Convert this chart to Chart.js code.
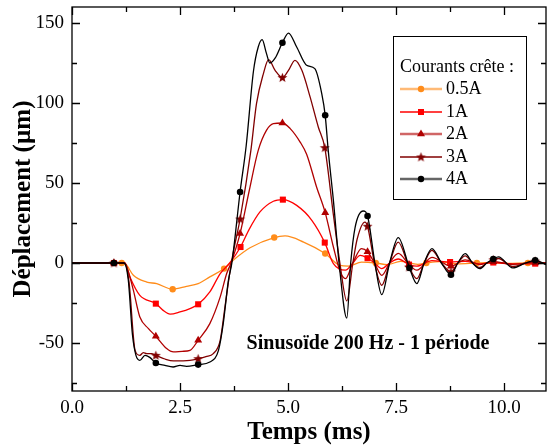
<!DOCTYPE html>
<html>
<head>
<meta charset="utf-8">
<script src="https://cdn.jsdelivr.net/npm/chart.js@4.4.1/dist/chart.umd.min.js"></script>
<style>
html, body { margin: 0; padding: 0; background: #fff; }
</style>
</head>
<body>
<canvas id="dispChart" width="547" height="448"></canvas>
<script>
// Series labels
const labels = ['0.5A', '1A', '2A', '3A', '4A'];

// 0.5A
const t05 = [0, 1.15, 1.25, 1.42, 1.73, 1.96, 2.33, 2.65, 2.92, 3.19, 3.52, 3.73, 4.12, 4.68, 4.93, 5.36, 5.86, 6.2, 6.4, 6.7, 7.03, 7.3, 7.6, 8.0, 8.2, 8.5, 8.9, 9.37, 9.7, 10.1, 10.55, 10.97];
const v05 = [0, 0, -1, -7.7, -11.9, -12.9, -16.4, -14.6, -12.9, -8.7, -3.5, 1.7, 9.5, 15.9, 16.9, 13.1, 5.9, -1.5, -2, 0.5, 0, -1, 1, -0.8, 0, 0.8, -0.5, 0, 0.3, -0.3, 0, 0];

// 1A
const t1 = [0, 0.97, 1.22, 1.34, 1.57, 1.94, 2.11, 2.27, 2.5, 2.73, 2.92, 3.19, 3.43, 3.65, 3.9, 4.1, 4.35, 4.66, 4.88, 5.2, 5.55, 5.85, 6.05, 6.33, 6.5, 6.67, 6.84, 7.0, 7.17, 7.35, 7.55, 7.8, 7.98, 8.33, 8.75, 9.1, 9.44, 9.75, 10.2, 10.72, 10.97];
const v1 = [0, 0, 0, -8.7, -20.2, -25.4, -29.6, -32, -30.6, -28.5, -25.8, -18.1, -6.6, 0, 10, 21, 31.9, 38.6, 39.6, 36, 26.7, 12.75, -0.4, -4.5, 0, 4.8, 3, 0, -3.5, 0, 2.5, -1, -2, 1.5, 0.6, 1, -0.5, 0.3, -0.6, -0.4, 0];

// 2A
const t2 = [0, 0.97, 1.22, 1.3, 1.42, 1.57, 1.77, 1.94, 2.19, 2.35, 2.55, 2.73, 2.92, 3.19, 3.43, 3.58, 3.68, 3.89, 4.1, 4.31, 4.5, 4.66, 4.87, 5.05, 5.28, 5.43, 5.66, 5.86, 6.05, 6.2, 6.33, 6.5, 6.7, 6.84, 7.0, 7.17, 7.35, 7.55, 7.8, 7.98, 8.33, 8.77, 9.1, 9.44, 9.75, 10.2, 10.72, 10.97];
const v2 = [0, 0, 0, -5, -17, -33.8, -41, -45.8, -53.5, -55.6, -55.2, -54.6, -48.3, -37.9, -21.2, -6.6, 0, 18.4, 45, 70.4, 82.9, 87.1, 87.5, 84, 75.6, 68, 47.5, 31.5, 10, -5, -9.8, 0, 9, 7, 0, -7.7, 0, 6, -1, -4.5, 3.5, -2, 2, -1, 0.8, -0.8, 0.3, 0];

// 3A
const t3 = [0, 0.97, 1.22, 1.32, 1.46, 1.57, 1.65, 1.73, 1.84, 1.94, 2.15, 2.35, 2.73, 2.92, 3.1, 3.27, 3.43, 3.54, 3.66, 3.72, 3.89, 4.14, 4.27, 4.43, 4.55, 4.7, 4.87, 5.01, 5.16, 5.32, 5.51, 5.7, 5.85, 6.05, 6.2, 6.36, 6.5, 6.6, 6.78, 6.84, 7.0, 7.17, 7.35, 7.55, 7.8, 7.98, 8.15, 8.33, 8.55, 8.77, 8.93, 9.1, 9.27, 9.44, 9.6, 9.75, 9.87, 10.2, 10.5, 10.72, 10.97];
const v3 = [0, 0, 0, -12, -54.6, -57.7, -56, -56.6, -56.6, -57.7, -60, -61.2, -60.8, -59.8, -58.5, -56.6, -48.3, -27.5, -4.6, 5, 27.5, 70.4, 99.6, 118.4, 127.1, 120.4, 115.9, 120.4, 126.7, 120.4, 103.8, 85, 72.1, 30, 0, -23.7, 0, 15, 25.6, 23, 0, -13.9, 0, 13.1, -2.5, -9.8, 0, 7.9, 0, -5.5, 0, 4.5, 0, -2.8, 0, 2, 2.8, -2.2, 0, 1.2, -0.8];

// 4A
const t4 = [0, 0.97, 1.2, 1.3, 1.4, 1.48, 1.57, 1.69, 1.8, 1.94, 2.15, 2.34, 2.5, 2.65, 2.92, 3.19, 3.39, 3.5, 3.62, 3.7, 3.89, 4.03, 4.2, 4.31, 4.4, 4.5, 4.58, 4.7, 4.87, 5.01, 5.2, 5.43, 5.62, 5.78, 5.86, 5.93, 6.05, 6.19, 6.36, 6.45, 6.55, 6.74, 6.84, 7.01, 7.17, 7.35, 7.55, 7.81, 7.98, 8.15, 8.33, 8.55, 8.77, 8.93, 9.1, 9.27, 9.44, 9.6, 9.75, 9.87, 10.2, 10.5, 10.72, 10.97];
const v4 = [0, 0, 0, -10, -45, -57.7, -60.8, -57.7, -59, -62.5, -64, -65, -64, -64.6, -63.5, -61.9, -54.6, -37.9, -10.8, 0, 44.4, 73, 120, 135, 139.6, 131, 125, 128, 137.7, 143.7, 135, 123.6, 121.5, 105.9, 92.3, 70.4, 39, -2.5, -34.4, 0, 22, 32.5, 29.4, 0, -19.8, 0, 15.9, -3.1, -12.9, 0, 9, 0, -7.3, 0, 5.9, 0, -3.5, 0, 2.5, 3.8, -3.1, 0, 1.7, -1];

// times where the symbols sit
const marks05 = [1.15, 2.33, 3.52, 4.68, 5.86, 7.03, 8.2, 9.37, 10.55];
const marks = [0.97, 1.94, 2.92, 3.89, 4.87, 5.86, 6.84, 7.81, 8.77, 9.75, 10.72];

// axis ticks
const xTickLabels = [0, 2.5, 5, 7.5, 10];
const yTickLabels = [-50, 0, 50, 100, 150];

const colors = ['#ff8c1a', '#ff0000', '#b00000', '#800000', '#000000'];
const serif = '"Liberation Serif", "Times New Roman", serif';

function starImage(color) {
    const c = document.createElement('canvas');
    c.width = 11; c.height = 11;
    const g = c.getContext('2d');
    g.fillStyle = color;
    g.beginPath();
    for (let i = 0; i < 10; i++) {
        const r = i % 2 ? 2.2 : 5.2;
        const a = -Math.PI / 2 + i * Math.PI / 5;
        g.lineTo(5.5 + r * Math.cos(a), 5.9 + r * Math.sin(a));
    }
    g.closePath();
    g.fill();
    return c;
}
const star = starImage(colors[3]);

function toPoints(t, v) {
    return t.map((x, i) => ({ x: x, y: v[i] }));
}

function markRadius(list, r) {
    return ctx => {
        const p = ctx.raw;
        if (!p) return 0;
        return list.some(m => Math.abs(m - p.x) < 0.025) ? r : 0;
    };
}

const styles = ['circle', 'rect', 'triangle', star, 'circle'];
const radii = [3.2, 4.3, 4.6, 5, 3.3];
const series = [[t05, v05], [t1, v1], [t2, v2], [t3, v3], [t4, v4]];

const datasets = series.map((s, i) => ({
    label: labels[i],
    data: toPoints(s[0], s[1]),
    borderColor: colors[i],
    backgroundColor: colors[i],
    borderWidth: 1.3,
    cubicInterpolationMode: 'monotone',
    pointStyle: styles[i],
    pointRadius: markRadius(i === 0 ? marks05 : marks, radii[i]),
    pointBorderWidth: 0,
    pointHoverRadius: 0,
    order: 5 - i
}));

function isLabelled(list, v) {
    return list.some(l => Math.abs(l - v) < 1e-6);
}

const framePlugin = {
    id: 'frame',
    afterDraw(chart) {
        const { ctx, chartArea: a, scales } = chart;
        const x = scales.x, y = scales.y;
        ctx.save();
        ctx.strokeStyle = '#000';
        ctx.lineWidth = 1.3;
        ctx.strokeRect(a.left, a.top, a.right - a.left, a.bottom - a.top);

        ctx.beginPath();
        x.ticks.forEach(tk => {
            const px = Math.round(x.getPixelForValue(tk.value)) + 0.5;
            const len = isLabelled(xTickLabels, tk.value) ? 8 : 5;
            ctx.moveTo(px, a.bottom); ctx.lineTo(px, a.bottom - len);
            ctx.moveTo(px, a.top); ctx.lineTo(px, a.top + len);
        });
        y.ticks.forEach(tk => {
            const py = Math.round(y.getPixelForValue(tk.value)) + 0.5;
            const len = isLabelled(yTickLabels, tk.value) ? 8 : 5;
            ctx.moveTo(a.left, py); ctx.lineTo(a.left + len, py);
            ctx.moveTo(a.right, py); ctx.lineTo(a.right - len, py);
        });
        ctx.stroke();

        // annotation
        ctx.fillStyle = '#000';
        ctx.font = 'bold 20px ' + serif;
        ctx.textAlign = 'center';
        ctx.textBaseline = 'middle';
        ctx.fillText('Sinusoïde 200 Hz - 1 période', x.getPixelForValue(6.85), y.getPixelForValue(-50.5));

        // legend
        const bx = 393, by = 36, bw = 133, bh = 163;
        ctx.fillStyle = '#fff';
        ctx.fillRect(bx, by, bw, bh);
        ctx.lineWidth = 1;
        ctx.strokeStyle = '#000';
        ctx.strokeRect(bx + 0.5, by + 0.5, bw, bh);
        ctx.fillStyle = '#000';
        ctx.font = '18px ' + serif;
        ctx.textAlign = 'left';
        ctx.fillText('Courants crête :', 400, 67);
        const rowY = [89, 112, 134, 157, 179];
        const pale = [true, false, true, false, true];
        chart.data.datasets.forEach((ds, i) => {
            const ry = rowY[i];
            ctx.save();
            ctx.strokeStyle = ds.borderColor;
            ctx.lineWidth = pale[i] ? 2.4 : 1.3;
            ctx.globalAlpha = pale[i] ? 0.6 : 1;
            ctx.beginPath();
            ctx.moveTo(400, ry); ctx.lineTo(442, ry);
            ctx.stroke();
            ctx.restore();
            drawMark(ctx, styles[i], 421, ry, ds.borderColor);
            ctx.fillStyle = '#000';
            ctx.fillText(ds.label, 446, ry);
        });
        ctx.restore();
    }
};

function drawMark(ctx, style, px, py, color) {
    ctx.save();
    ctx.fillStyle = color;
    ctx.beginPath();
    if (style === 'circle') {
        ctx.arc(px, py, 3.2, 0, Math.PI * 2);
        ctx.fill();
    } else if (style === 'rect') {
        ctx.fillRect(px - 3, py - 3, 6, 6);
    } else if (style === 'triangle') {
        ctx.moveTo(px, py - 4.6);
        ctx.lineTo(px + 4, py + 2.3);
        ctx.lineTo(px - 4, py + 2.3);
        ctx.closePath();
        ctx.fill();
    } else {
        ctx.drawImage(style, px - style.width / 2, py - style.height / 2);
    }
    ctx.restore();
}

const ctx = document.getElementById('dispChart').getContext('2d');
const chart = new Chart(ctx, {
    type: 'line',
    data: { datasets: datasets },
    options: {
        responsive: false,
        animation: false,
        events: [],
        layout: { padding: { top: 7, right: 1, left: 0, bottom: 0 } },
        plugins: { legend: { display: false }, tooltip: { enabled: false } },
        scales: {
            x: {
                type: 'linear',
                min: 0,
                max: 10.97,
                grid: { display: false, drawTicks: false },
                border: { display: false },
                afterFit: s => { s.height = 57; s.paddingLeft = 0; s.paddingRight = 0; },
                ticks: {
                    stepSize: 1.25,
                    includeBounds: false,
                    autoSkip: false,
                    maxRotation: 0,
                    padding: 6,
                    color: '#000',
                    font: { family: serif, size: 19 },
                    callback: v => isLabelled(xTickLabels, v) ? v.toFixed(1) : ''
                },
                title: {
                    display: true,
                    text: 'Temps (ms)',
                    color: '#000',
                    font: { family: serif, size: 25, weight: 'bold' },
                    padding: { top: 0, bottom: 0 }
                }
            },
            y: {
                min: -80,
                max: 160,
                grid: { display: false, drawTicks: false },
                border: { display: false },
                afterFit: s => { s.width = 72; s.paddingTop = 0; s.paddingBottom = 0; },
                ticks: {
                    stepSize: 25,
                    includeBounds: false,
                    autoSkip: false,
                    padding: 8,
                    color: '#000',
                    font: { family: serif, size: 19 },
                    callback: v => isLabelled(yTickLabels, v) ? String(v) : ''
                },
                title: {
                    display: true,
                    text: 'Déplacement (µm)',
                    color: '#000',
                    font: { family: serif, size: 25, weight: 'bold' },
                    padding: { top: 9, bottom: 0 }
                }
            }
        }
    },
    plugins: [framePlugin]
});
</script>
</body>
</html>
